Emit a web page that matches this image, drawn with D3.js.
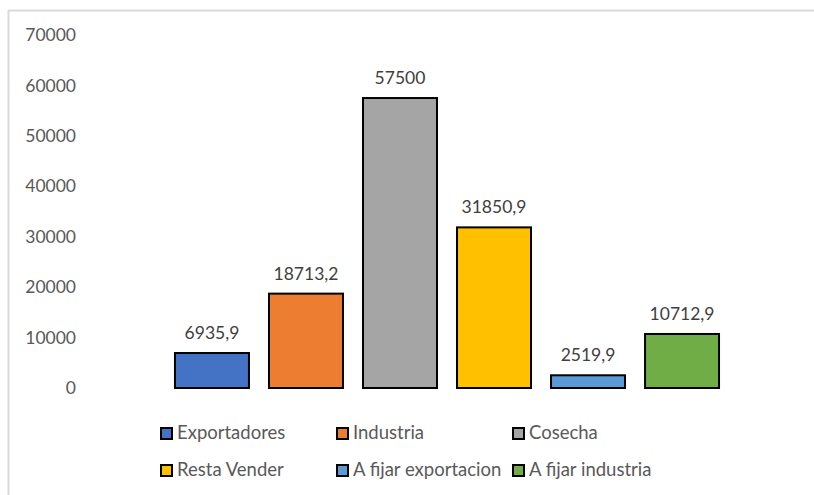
<!DOCTYPE html>
<html>
<head>
<meta charset="utf-8">
<script src="https://cdn.jsdelivr.net/npm/d3@7"></script>
<style>
  body { margin: 0; background: #fff; }
  svg { display: block; font-family: Lato, "Open Sans", sans-serif; }
</style>
</head>
<body>
<svg id="chart" width="814" height="495"></svg>
<script>
(function (d3) {

    /***** Data *****/
    var categories = ["Exportadores", "Industria", "Cosecha", "Resta Vender", "A fijar exportacion", "A fijar industria"];
    var values = [6935.9, 18713.2, 57500, 31850.9, 2519.9, 10712.9];
    var labels = ["6935,9", "18713,2", "57500", "31850,9", "2519,9", "10712,9"];
    var colors = ["#4472c4", "#ed7d31", "#a5a5a5", "#ffc000", "#5b9bd5", "#70ad47"];
    var yTicks = [0, 10000, 20000, 30000, 40000, 50000, 60000, 70000];

    /***** Configuration *****/
    var svg = d3.select("#chart");

    // frame (only top and left edges are visible)
    svg.append("line").attr("x1", 8).attr("x2", 814).attr("y1", 10.5).attr("y2", 10.5)
       .attr("stroke", "#d9d9d9").attr("stroke-width", 2);
    svg.append("line").attr("x1", 8.5).attr("x2", 8.5).attr("y1", 10).attr("y2", 495)
       .attr("stroke", "#d9d9d9").attr("stroke-width", 2);

    /***** Scales *****/
    var x = d3.scaleBand().domain(categories).range([165, 729]).paddingInner(0.213).paddingOuter(0.106);
    var y = d3.scaleLinear().domain([0, 70000]).range([388, 35]);

    /***** Axis *****/
    var yAxis = d3.axisLeft(y).tickValues(yTicks).tickSize(0).tickPadding(0).tickFormat(d3.format("d"));
    var axisG = svg.append("g").attr("transform", "translate(76,0)").call(yAxis);
    axisG.select(".domain").remove();
    axisG.selectAll("text")
         .attr("fill", "#595959")
         .style("font-size", "17.5px")
         .style("font-family", "Lato, sans-serif");

    /***** Bars *****/
    svg.selectAll(".bar")
       .data(values)
       .enter().append("rect")
       .attr("class", "bar")
       .attr("x", function (d, i) { return x(categories[i]); })
       .attr("width", x.bandwidth())
       .attr("y", function (d) { return y(d); })
       .attr("height", function (d) { return y(0) - y(d); })
       .attr("fill", function (d, i) { return colors[i]; })
       .attr("stroke", "#000")
       .attr("stroke-width", 2);

    svg.selectAll(".lbl")
       .data(values)
       .enter().append("text")
       .attr("class", "lbl")
       .attr("x", function (d, i) { return x(categories[i]) + x.bandwidth() / 2; })
       .attr("y", function (d) { return y(d) - 14; })
       .attr("text-anchor", "middle")
       .attr("fill", "#404040")
       .style("font-size", "17.5px")
       .text(function (d, i) { return labels[i]; });

    /***** Legend *****/
    var legendCols = [160, 336, 512];
    var legendRows = [433, 470];
    var legend = svg.selectAll(".legend")
       .data(categories)
       .enter().append("g")
       .attr("class", "legend")
       .attr("transform", function (d, i) {
           return "translate(" + legendCols[i % 3] + "," + legendRows[Math.floor(i / 3)] + ")";
       });

    legend.append("rect")
          .attr("x", 1).attr("y", -5)
          .attr("width", 11).attr("height", 11)
          .attr("fill", function (d, i) { return colors[i]; })
          .attr("stroke", "#000")
          .attr("stroke-width", 2);

    legend.append("text")
          .attr("x", 17)
          .attr("y", 0)
          .attr("dy", "0.35em")
          .attr("fill", "#595959")
          .style("font-size", "18.5px")
          .text(function (d) { return d; });

})(d3);
</script>
</body>
</html>
